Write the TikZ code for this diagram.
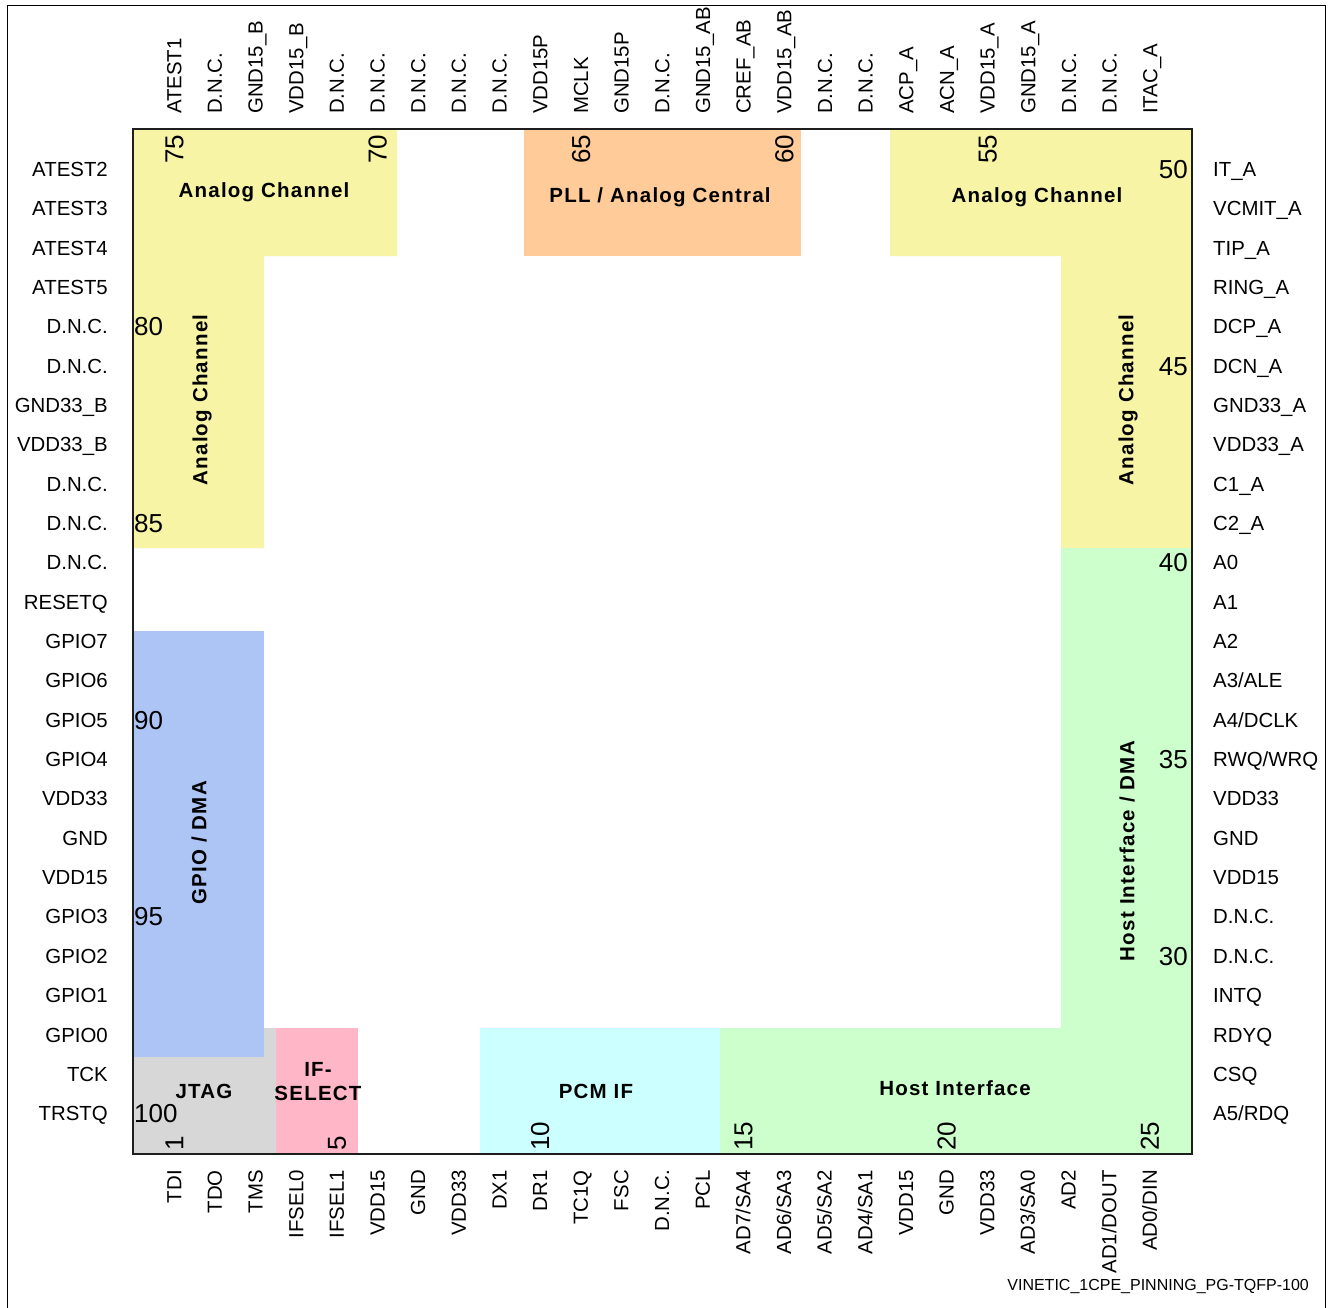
\documentclass[tikz,border=0pt]{standalone}
\usepackage{fontspec}
\setmainfont{Liberation Sans}
\newfontfamily\blockfont{Liberation Sans}[LetterSpace=6]
\definecolor{cyel}{HTML}{F7F4A6}
\definecolor{corg}{HTML}{FFCC99}
\definecolor{cblu}{HTML}{ADC5F5}
\definecolor{cgry}{HTML}{D7D7D7}
\definecolor{cpnk}{HTML}{FFB7C8}
\definecolor{ccyn}{HTML}{CCFFFF}
\definecolor{cgrn}{HTML}{CCFFCC}
\definecolor{cedge}{HTML}{1E1E1E}
\begin{document}
\begin{tikzpicture}[x=1pt,y=-1pt,
  pinlbl/.style={inner sep=0pt, text height=14.6pt, text depth=0pt, font=\fontsize{20.4}{24}\selectfont},
  pinL/.style={pinlbl, anchor=east},
  pinR/.style={pinlbl, anchor=west},
  pinT/.style={pinlbl, rotate=90, anchor=west},
  pinB/.style={pinlbl, rotate=90, anchor=east},
  numlbl/.style={inner sep=0pt, text height=18.6pt, text depth=0pt, font=\fontsize{26}{30}\selectfont},
  numL/.style={numlbl, anchor=west},
  numR/.style={numlbl, anchor=east},
  numV/.style={numlbl, rotate=90, anchor=west},
  blk/.style={inner sep=0pt, text height=14.7pt, text depth=0pt, font={\blockfont\bfseries\fontsize{20.5}{24.5}\selectfont}},
  blkv/.style={blk, rotate=90},
  chipedge/.style={draw=cedge, line width=2pt},
  frame/.style={draw=black, line width=1.2pt}
]
\useasboundingbox (0,0) rectangle (1331,1307);
\fill[white] (0,0) rectangle (1331,1307);
\draw[frame] (7.5,5.5) rectangle (1325.5,1320);

% functional regions
\fill[cyel] (133,129) -- (397,129) -- (397,256) -- (264,256) -- (264,548) -- (133,548) -- cycle;
\fill[corg] (524,129) rectangle (801,256);
\fill[cyel] (890,129) -- (1192,129) -- (1192,548) -- (1061,548) -- (1061,256) -- (890,256) -- cycle;
\fill[cgrn] (1061,548) -- (1192,548) -- (1192,1154) -- (720,1154) -- (720,1028) -- (1061,1028) -- cycle;
\fill[cgry] (133,1028) rectangle (276,1154);
\fill[cblu] (133,631) rectangle (264,1057);
\fill[cpnk] (276,1028) rectangle (358,1154);
\fill[ccyn] (480,1028) rectangle (720,1154);

% chip outline
\draw[chipedge] (133,129) rectangle (1192,1154);

% block labels
\node[blk] (bAC1) at (264,190) {Analog Channel};
\node[blk] (bPLL) at (660,195) {PLL / Analog Central};
\node[blk] (bAC2) at (1037,195) {Analog Channel};
\node[blkv] (bAC3) at (200,400) {Analog Channel};
\node[blkv] (bAC4) at (1126,400) {Analog Channel};
\node[blkv] (bGPIO) at (199,843) {GPIO / DMA};
\node[blkv] (bHID) at (1127,851) {Host Interface / DMA};
\node[blk] (bJTAG) at (204,1091) {JTAG};
\node[blk, text height=, text depth=, align=center, anchor=north] (bIFS) at (318,1062) {IF-\\SELECT};
\node[blk] (bPCM) at (596,1091) {PCM IF};
\node[blk] (bHI) at (955,1088) {Host Interface};

% top pins 75..51
\foreach \lab [count=\i from 0] in {ATEST1,D.N.C.,GND15\_B,VDD15\_B,D.N.C.,D.N.C.,D.N.C.,D.N.C.,D.N.C.,VDD15P,MCLK,GND15P,D.N.C.,GND15\_AB,CREF\_AB,VDD15\_AB,D.N.C.,D.N.C.,ACP\_A,ACN\_A,VDD15\_A,GND15\_A,D.N.C.,D.N.C.,ITAC\_A}
  \node[pinT] (t\i) at ({174+\i*40.67},114) {\lab};
% left pins 76..100
\foreach \lab [count=\i from 0] in {ATEST2,ATEST3,ATEST4,ATEST5,D.N.C.,D.N.C.,GND33\_B,VDD33\_B,D.N.C.,D.N.C.,D.N.C.,RESETQ,GPIO7,GPIO6,GPIO5,GPIO4,VDD33,GND,VDD15,GPIO3,GPIO2,GPIO1,GPIO0,TCK,TRSTQ}
  \node[pinL] (l\i) at (108,{169+\i*39.35}) {\lab};
% right pins 50..26
\foreach \lab [count=\i from 0] in {IT\_A,VCMIT\_A,TIP\_A,RING\_A,DCP\_A,DCN\_A,GND33\_A,VDD33\_A,C1\_A,C2\_A,A0,A1,A2,A3/ALE,A4/DCLK,RWQ/WRQ,VDD33,GND,VDD15,D.N.C.,D.N.C.,INTQ,RDYQ,CSQ,A5/RDQ}
  \node[pinR] (r\i) at (1213,{169+\i*39.35}) {\lab};
% bottom pins 1..25
\foreach \lab [count=\i from 0] in {TDI,TDO,TMS,IFSEL0,IFSEL1,VDD15,GND,VDD33,DX1,DR1,TC1Q,FSC,D.N.C.,PCL,AD7/SA4,AD6/SA3,AD5/SA2,AD4/SA1,VDD15,GND,VDD33,AD3/SA0,AD2,AD1/DOUT,AD0/DIN}
  \node[pinB] (b\i) at ({174+\i*40.65},1170) {\lab};

% pin numbers
\foreach \n/\k in {75/0,70/5,65/10,60/15,55/20}
  \node[numV] (nt\n) at ({174+\k*40.67},164) {\n};
\foreach \n/\k in {50/0,45/5,40/10,35/15,30/20}
  \node[numR] (nr\n) at (1188,{169+\k*39.35}) {\n};
\foreach \n/\k in {80/4,85/9,90/14,95/19,100/24}
  \node[numL] (nl\n) at (134,{169+\k*39.35}) {\n};
\foreach \n/\k in {1/0,5/4,10/9,15/14,20/19,25/24}
  \node[numV] (nb\n) at ({174+\k*40.65},1151) {\n};

% drawing id
\node[inner sep=0pt, anchor=base east, font=\fontsize{16}{19}\selectfont] (foot) at (1309,1290) {VINETIC\_1CPE\_PINNING\_PG-TQFP-100};
\end{tikzpicture}
\end{document}
